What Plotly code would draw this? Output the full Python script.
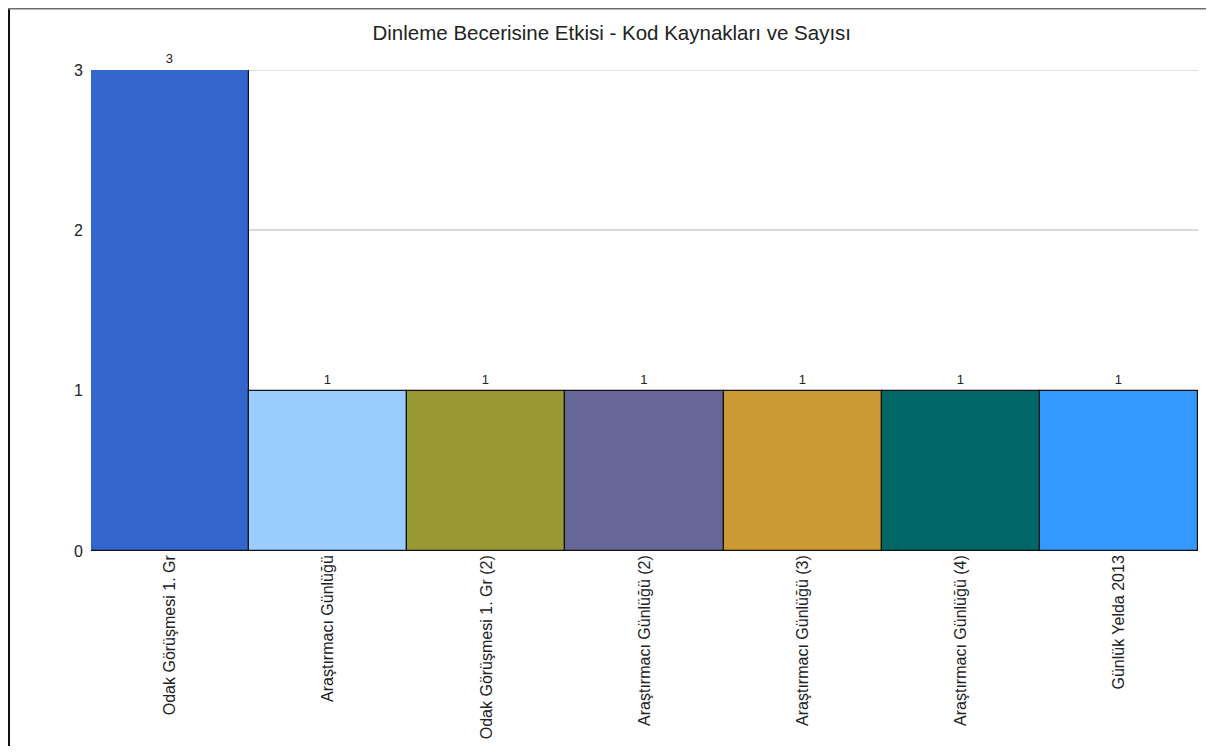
import plotly.graph_objects as go

categories = [
    "Odak Görüşmesi 1. Gr",
    "Araştırmacı Günlüğü",
    "Odak Görüşmesi 1. Gr (2)",
    "Araştırmacı Günlüğü (2)",
    "Araştırmacı Günlüğü (3)",
    "Araştırmacı Günlüğü (4)",
    "Günlük Yelda 2013",
]
values = [3, 1, 1, 1, 1, 1, 1]
colors = ["#3366cc", "#99ccff", "#999933", "#666699", "#cc9933", "#006666", "#3399ff"]
y_ticks = [0, 1, 2, 3]

FONT = "Liberation Sans, Arial, sans-serif"

fig = go.Figure(
    go.Bar(
        x=categories,
        y=values,
        marker=dict(color=colors, line=dict(color="#111111", width=1.2)),
        text=[str(v) for v in values],
        textposition="outside",
        textfont=dict(family=FONT, size=13, color="#222222"),
        cliponaxis=False,
        width=1.0,
    )
)

W, H = 1198, 738
L, R, T, B = 83, 8, 62, 195
plot_w = W - L - R
plot_h = H - T - B

fig.update_layout(
    width=W,
    height=H,
    margin=dict(l=L, r=R, t=T, b=B),
    paper_bgcolor="white",
    plot_bgcolor="white",
    bargap=0,
    showlegend=False,
    title=dict(
        text="Dinleme Becerisine Etkisi - Kod Kaynakları ve Sayısı",
        x=0.504,
        xanchor="center",
        xref="container",
        y=0.966,
        yanchor="middle",
        font=dict(family=FONT, size=20.5, color="#222222"),
    ),
    font=dict(family=FONT, size=16, color="#222222"),
    xaxis=dict(
        tickangle=-90,
        showgrid=False,
        showline=False,
        ticks="",
        tickfont=dict(family=FONT, size=16, color="#222222"),
        range=[-0.5, 6.5],
    ),
    yaxis=dict(
        range=[0, 3],
        tickvals=y_ticks,
        showgrid=True,
        gridcolor="#d9d9d9",
        gridwidth=1.5,
        zeroline=False,
        showline=False,
        ticks="",
        ticklabelstandoff=7,
        tickfont=dict(family=FONT, size=16, color="#222222"),
    ),
    shapes=[
        dict(
            type="line",
            xref="paper",
            yref="y",
            x0=0,
            x1=1,
            y0=max(y_ticks),
            y1=max(y_ticks),
            line=dict(color="#d9d9d9", width=1.5),
            layer="below",
        ),
        dict(
            type="line",
            xref="paper",
            yref="paper",
            x0=(1 - L) / plot_w,
            x1=(1 - L) / plot_w,
            y0=-1.0,
            y1=(H - B - 0.5) / plot_h,
            line=dict(color="#111111", width=2),
            layer="above",
        ),
        dict(
            type="line",
            xref="paper",
            yref="paper",
            x0=(0 - L) / plot_w,
            x1=1.2,
            y0=(H - B - 0.75) / plot_h,
            y1=(H - B - 0.75) / plot_h,
            line=dict(color="#6e6e6e", width=1.5),
            layer="above",
        ),
    ],
)

fig.write_html("out.html")
